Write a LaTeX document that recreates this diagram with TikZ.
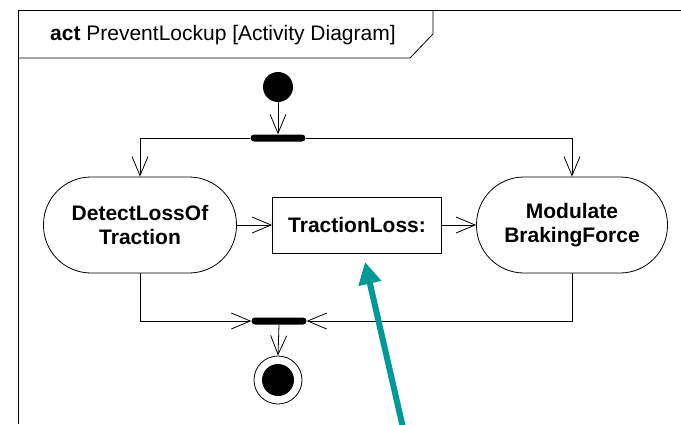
\documentclass[tikz,border=0pt]{standalone}
\usepackage{fontspec}
\setmainfont{Liberation Sans}
\usetikzlibrary{arrows.meta}

\definecolor{pointerteal}{RGB}{0,153,153}

\tikzset{
  line/.style={draw=black, line width=0.8pt},
  flow/.style={line, -{Straight Barb[length=19pt,width=16pt,line width=0.8pt]}},
  actionnode/.style={line, rectangle, rounded corners=47.5pt, minimum height=96pt,
    align=center, font=\fontsize{21}{24}\selectfont\bfseries, fill=white},
  objectnode/.style={line, rectangle, minimum height=56pt,
    align=center, font=\fontsize{21}{24}\selectfont\bfseries, fill=white},
  syncbar/.style={fill=black, rectangle, rounded corners=3.5pt, inner sep=0pt,
    minimum width=55pt, minimum height=7pt},
  startdot/.style={fill=black, circle, inner sep=0pt, minimum size=30pt},
  endring/.style={line, circle, inner sep=0pt, minimum size=48pt, fill=white},
  enddot/.style={fill=black, circle, inner sep=0pt, minimum size=32pt},
  pointer/.style={draw=pointerteal, line width=6pt,
    -{Triangle[length=22pt,width=22pt]}}
}

\begin{document}
\begin{tikzpicture}[x=1pt, y=-1pt]
  \useasboundingbox (0,0) rectangle (681,424);

  % diagram frame and its name tab
  \draw[line] (681,10) -- (18,10) -- (18,424);
  \draw[line] (18,58) -- (410,58) -- (433,34) -- (433,10);
  \node[font=\fontsize{21}{24}\selectfont, anchor=west, inner sep=0pt] (title) at (50,35)
    {\textbf{act} PreventLockup [Activity Diagram]};

  % nodes
  \node[startdot] (init) at (278,87) {};
  \node[syncbar] (fork) at (278,138) {};
  \node[actionnode, minimum width=193pt] (detect) at (140,225) {DetectLossOf\\Traction};
  \node[objectnode, minimum width=169pt] (loss) at (357,225) {TractionLoss:};
  \node[actionnode, minimum width=191pt] (modulate) at (572,225) {Modulate\\BrakingForce};
  \node[syncbar] (join) at (279,321) {};
  \node[endring] (final) at (278,380) {};
  \node[enddot] (finaldot) at (final.center) {};

  % control and object flows
  \draw[flow] (init) -- (fork.north);
  \draw[flow] (fork.west) -| (detect.north);
  \draw[flow] (fork.east) -| (modulate.north);
  \draw[flow] (detect.east) -- (loss.west);
  \draw[flow] (loss.east) -- (modulate.west);
  \draw[flow] (detect.south) |- (join.west);
  \draw[flow] (modulate.south) |- (join.east);
  \draw[flow] (join.south) -- (final.north);

  % callout pointer
  \coordinate (pointertail) at (404,432);
  \coordinate (pointertip) at (365,262);
  \draw[pointer] (pointertail) -- (pointertip);
\end{tikzpicture}
\end{document}
